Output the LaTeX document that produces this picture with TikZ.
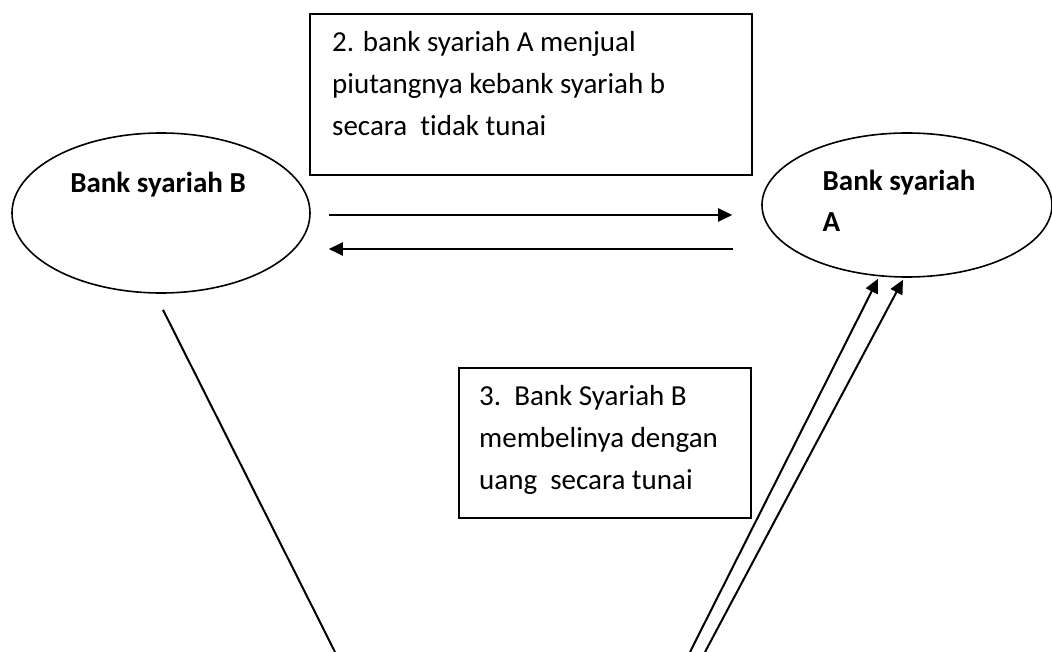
\documentclass[tikz,border=0pt]{standalone}
\usepackage{fontspec}
\setmainfont{Carlito}[Ligatures=NoCommon]
\usetikzlibrary{shapes.geometric, arrows.meta, positioning, calc}
\tikzset{
	>={Triangle[length=14pt,width=13pt]},
	bank/.style={ellipse, draw, line width=1.6pt, inner sep=0pt},
	kotak/.style={rectangle, draw, line width=2pt, inner sep=0pt, anchor=north west},
	teks/.style={font=\fontsize{29}{42}\selectfont, align=left, inner sep=0pt},
	panah/.style={->, line width=2.6pt},
	garis/.style={line width=2pt},
}

\begin{document}
\begin{tikzpicture}[x=1pt, y=-1pt]
	\useasboundingbox (0,0) rectangle (1052,652);
	\node[bank, minimum width=298pt, minimum height=160pt, label={[teks, font=\bfseries\fontsize{29}{42}\selectfont, anchor=center, xshift=-3pt, yshift=28pt]center:Bank syariah B}] (BANKB) at (161,213) {};
	\node[bank, minimum width=290pt, minimum height=144pt, label={[teks, font=\bfseries\fontsize{29}{41}\selectfont, anchor=center, xshift=-8pt, yshift=4pt]center:Bank syariah\\A}] (BANKA) at (907,205) {};
	\node[kotak, minimum width=442pt, minimum height=161pt, label={[teks, anchor=north west, xshift=23pt, yshift=-18pt]north west:2. bank syariah A menjual\\piutangnya kebank syariah b\\secara\ \ tidak tunai}] (KET2) at (309,13) {};
	\node[kotak, minimum width=292pt, minimum height=150pt, label={[teks, anchor=north west, xshift=21pt, yshift=-18pt]north west:3.\ \ Bank Syariah B\\membelinya dengan\\uang\ \ secara tunai}] (KET3) at (458,367) {};

	\coordinate (ujungB) at (335,652);
	\coordinate (ujung1) at (690,652);
	\coordinate (ujung2) at (705,652);

	\draw[panah] ([xshift=18pt,yshift=-2pt]BANKB.east) -- ([xshift=-29pt,yshift=-10pt]BANKA.west);
	\draw[panah] ([xshift=-28pt,yshift=-44pt]BANKA.west) -- ([xshift=18pt,yshift=-36pt]BANKB.east);
	\draw[garis] ([xshift=2pt,yshift=-16pt]BANKB.south) -- (ujungB);
	\draw[garis, ->] (ujung1) -- ([xshift=-29pt,yshift=-1pt]BANKA.south);
	\draw[garis, ->] (ujung2) -- ([xshift=-4pt,yshift=-2pt]BANKA.south);
\end{tikzpicture}
\end{document}
